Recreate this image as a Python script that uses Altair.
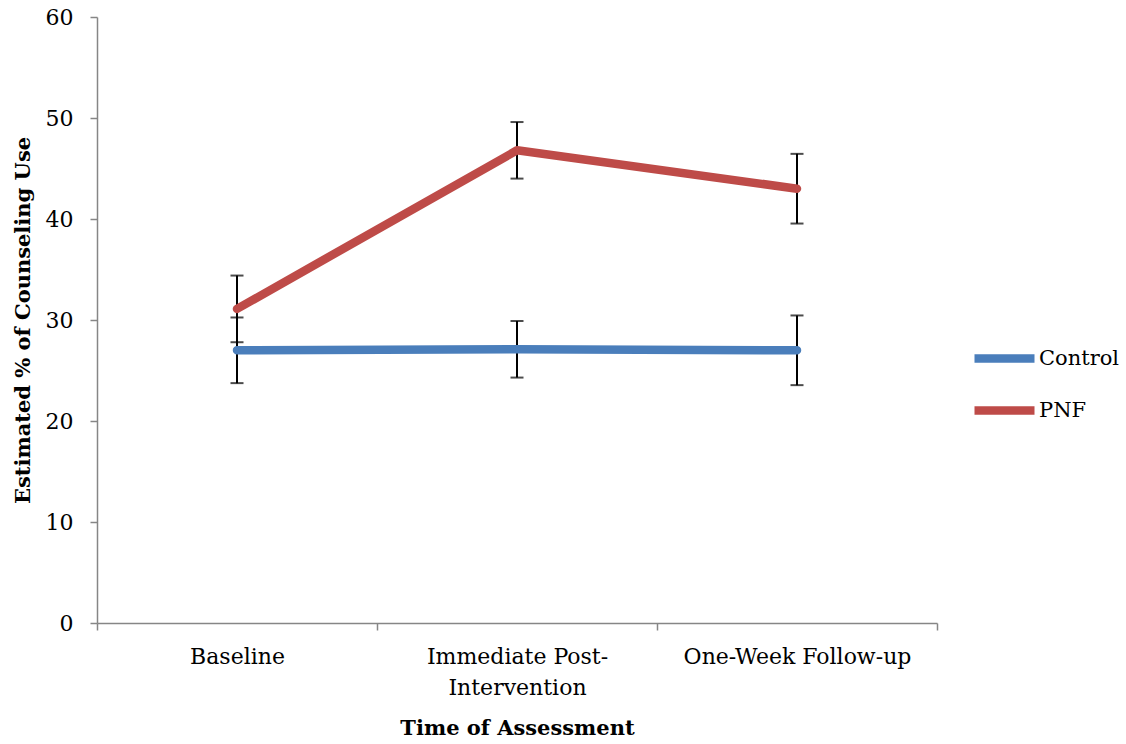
import altair as alt
import pandas as pd

times = ["Baseline", "Immediate Post-Intervention", "One-Week Follow-up"]
groups = ["Control", "PNF"]
control_mean = [27.0, 27.1, 27.0]
control_err = [3.25, 2.8, 3.45]
pnf_mean = [31.1, 46.8, 43.0]
pnf_err = [3.3, 2.8, 3.45]
colors = ["#4A7EBB", "#BE4B48"]
y_ticks = [0, 10, 20, 30, 40, 50, 60]

rows = []
for g, means, errs in [("Control", control_mean, control_err), ("PNF", pnf_mean, pnf_err)]:
    for t, m, e in zip(times, means, errs):
        rows.append({"time": t, "group": g, "value": m, "lo": m - e, "hi": m + e})
df = pd.DataFrame(rows)

FONT = "DejaVu Serif"
YTITLE = "Estimated % of Counseling Use"

x_enc = alt.X(
    "time:N",
    sort=times,
    bandPosition=0.5,
    scale=alt.Scale(type="band", paddingInner=0, paddingOuter=0),
    axis=alt.Axis(
        title="Time of Assessment",
        tickBand="extent",
        labelAngle=0,
        labelExpr="datum.label == 'Immediate Post-Intervention' ? ['Immediate Post-', 'Intervention'] : datum.label",
        labelPadding=16,
        labelLineHeight=31,
        labelLimit=400,
        titlePadding=19,
        tickSize=7,
    ),
)

def y_enc(field):
    return alt.Y(
        field,
        scale=alt.Scale(domain=[0, 60], nice=False),
        title=YTITLE,
        axis=alt.Axis(values=y_ticks, grid=False, tickSize=7, labelPadding=17, titlePadding=12),
    )

base = alt.Chart(df)

rules = base.mark_rule(color="black", strokeWidth=2).encode(x=x_enc, y=y_enc("lo:Q"), y2="hi:Q")
cap_lo = base.mark_tick(color="black", size=13, thickness=2).encode(x=x_enc, y=y_enc("lo:Q"))
cap_hi = base.mark_tick(color="black", size=13, thickness=2).encode(x=x_enc, y=y_enc("hi:Q"))
lines = base.mark_line(strokeWidth=8.5, strokeCap="round", strokeJoin="round").encode(
    x=x_enc,
    y=y_enc("value:Q"),
    color=alt.Color(
        "group:N",
        scale=alt.Scale(domain=groups, range=colors),
        legend=alt.Legend(
            title=None,
            orient="none",
            legendX=873,
            legendY=307,
            symbolType="stroke",
            symbolSize=3600,
            symbolStrokeWidth=8.5,
            labelFont=FONT,
            labelFontSize=21,
            labelColor="black",
            rowPadding=0,
            labelOffset=0,
        ),
    ),
)

chart = (
    alt.layer(rules, cap_lo, cap_hi, lines)
    .properties(
        width=840,
        height=606,
        autosize=alt.AutoSizeParams(type="none"),
        padding={"left": 97, "top": 17, "right": 189, "bottom": 121},
        background="white",
    )
    .configure_view(stroke=None)
    .configure_axis(
        domainColor="#868686",
        tickColor="#868686",
        domainWidth=1.5,
        tickWidth=1.5,
        labelFont=FONT,
        labelFontSize=22,
        labelColor="black",
        titleFont=FONT,
        titleFontSize=21,
        titleFontWeight="bold",
        titleColor="black",
    )
)

chart.save("out.html", embed_options={"renderer": "svg", "actions": False})
